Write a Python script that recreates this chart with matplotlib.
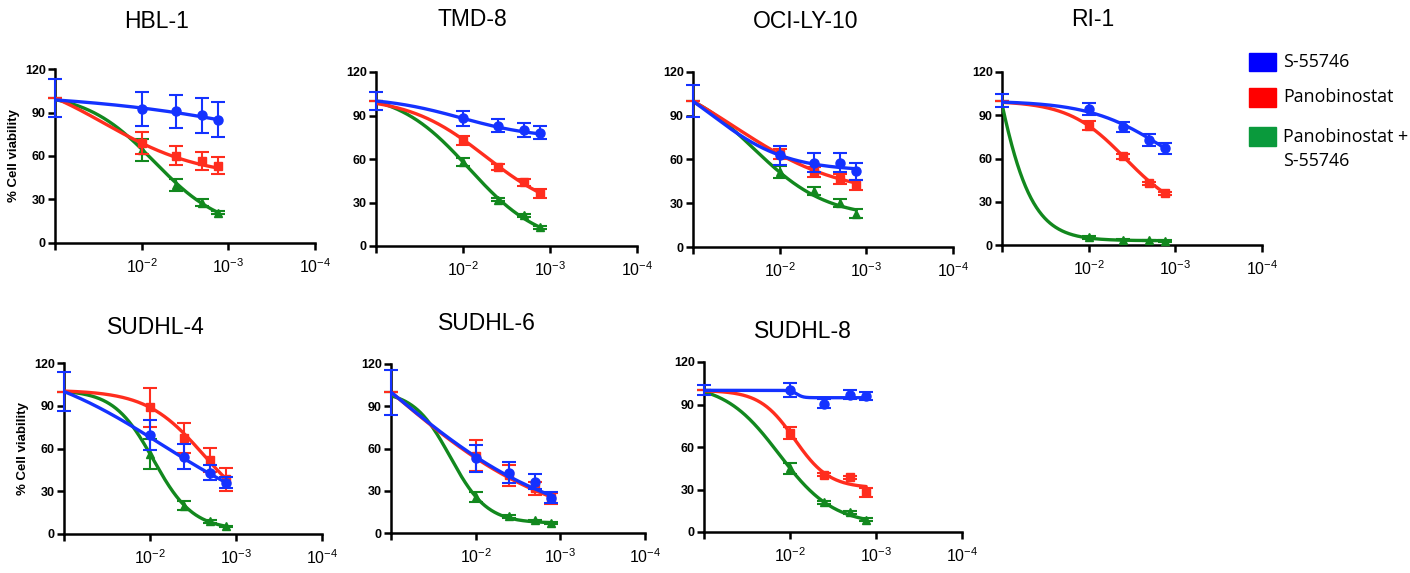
import matplotlib.pyplot as plt
import matplotlib.patches as mpatches
from matplotlib.ticker import NullLocator
import numpy as np

plt.rcParams['font.family'] = ['Liberation Sans', 'DejaVu Sans']
plt.rcParams['mathtext.default'] = 'regular'

# drug concentrations; the first one is the untreated control, shown at the origin
conc = [1e-1, 1e-2, 4e-3, 2e-3, 1.3e-3]

series_names = ['S-55746', 'Panobinostat', 'Panobinostat +\nS-55746']

# % viability, rows: S-55746, Panobinostat, Panobinostat + S-55746
hbl1_mean = [[100, 92.3, 90.7, 88.2, 85.0], [100, 68.8, 60.2, 56.3, 53.3], [100, 64.2, 40.0, 27.7, 20.8]]
hbl1_sem = [[13, 11.5, 11.6, 12, 12], [0, 7.5, 6.7, 6.3, 6], [0, 7.4, 4, 2.5, 1]]
tmd8_mean = [[100, 88, 83, 80, 78], [100, 72.8, 54.6, 43.8, 36.4], [100, 58, 31.9, 21.1, 12.9]]
tmd8_sem = [[6.2, 5, 4.5, 4.5, 4.5], [0, 3, 2, 2.5, 3], [0, 2.5, 1, 1, 1]]
ocily10_mean = [[100, 62.9, 57.8, 57.8, 51.9], [100, 63.5, 51.4, 46.4, 42.7], [100, 51.4, 38.4, 30.2, 22.9]]
ocily10_sem = [[11, 6.5, 6.5, 6.5, 6], [0, 3.5, 3.5, 3.5, 3.5], [0, 4, 3, 3, 3]]
ri1_mean = [[100, 94.5, 81.8, 73, 67], [100, 82.7, 61.4, 42.9, 35.9], [100, 5.3, 3.7, 3.2, 2.8]]
ri1_sem = [[4.4, 4, 3.5, 4, 4], [0, 3, 2, 1, 1], [0, 1, 0.5, 0.5, 0.5]]
sudhl4_mean = [[100, 69.5, 54.3, 43.1, 36.1], [100, 88.8, 67.6, 52, 38.5], [100, 56.2, 20, 8.9, 5.4]]
sudhl4_sem = [[13.6, 10.5, 8.7, 5.2, 4], [0, 13.7, 10.5, 8.7, 8], [0, 10.3, 3.5, 1, 0.5]]
sudhl6_mean = [[100, 53, 42.8, 36.4, 25.2], [100, 54.7, 41.1, 31.6, 24.5], [100, 25.7, 11.9, 9, 7.1]]
sudhl6_sem = [[16, 9.5, 7.6, 5.5, 4], [0, 11, 7.5, 4.5, 4], [0, 3.5, 1, 0.5, 0.5]]
sudhl8_mean = [[100, 100.5, 90.7, 97, 95.9], [100, 70, 40.3, 38.7, 28], [100, 45, 20.9, 14, 8.7]]
sudhl8_sem = [[3.5, 5, 3, 3, 3], [0, 4, 1, 1, 3], [0, 4, 1, 1, 1]]

# four-parameter fits: top, bottom, logIC50, hill slope
hbl1_fit = [[105, 0, -4.98, 0.3], [120, 45, -1.57, 0.77], [104, 8, -2.147, 1.094]]
tmd8_fit = [[103, 74, -1.97, 0.97], [103, 20, -2.265, 0.97], [107, 0, -2.069, 1.056]]
ocily10_fit = [[130, 52, -1.205, 0.99], [130, 35, -1.477, 0.703], [115, 20, -1.70, 1.03]]
ri1_fit = [[100, 35, -2.87, 1.0], [100, 20, -2.423, 1.32], [300, 3, -0.824, 1.875]]
sudhl4_fit = [[125, 0, -2.142, 0.527], [101, 10, -2.624, 1.299], [101, 3, -2.04, 1.882]]
sudhl6_fit = [[200, 0, -1.0, 0.43], [200, 0, -1.0, 0.44], [101, 7, -1.7, 2.0]]
sudhl8_fit = [[100, 94.8, -2.08, 12], [100, 31, -2.053, 2.15], [105, 5, -1.872, 1.37]]

panels = [
    ('HBL-1', hbl1_mean, hbl1_sem, hbl1_fit),
    ('TMD-8', tmd8_mean, tmd8_sem, tmd8_fit),
    ('OCI-LY-10', ocily10_mean, ocily10_sem, ocily10_fit),
    ('RI-1', ri1_mean, ri1_sem, ri1_fit),
    ('SUDHL-4', sudhl4_mean, sudhl4_sem, sudhl4_fit),
    ('SUDHL-6', sudhl6_mean, sudhl6_sem, sudhl6_fit),
    ('SUDHL-8', sudhl8_mean, sudhl8_sem, sudhl8_fit),
]

# axes boxes in pixels (left, right, top, bottom) and title centres
W, H = 1410, 573
boxes = [(55, 315, 69, 243), (376, 637, 72, 246), (693, 953, 72, 247), (1002, 1262, 72, 245),
         (64, 322, 363, 534), (391, 645, 364, 533), (704, 962, 362, 532)]
title_xy = [(157, 21), (472, 20), (806, 21), (1093, 20), (156, 328), (487, 324), (803, 332)]

colors = ['#1432ff', '#ff2d1e', '#12881e']
legend_colors = ['#0000ff', '#ff0000', '#0a9a3c']
markers = ['o', 's', '^']
msizes = [6.5, 6, 6]


def four_pl(c, top, bottom, logic50, hill):
    return bottom + (top - bottom) / (1 + 10 ** ((logic50 - np.log10(c)) * hill))


fig = plt.figure(figsize=(W / 100, H / 100), dpi=100)
xfit = np.logspace(np.log10(conc[0]), np.log10(conc[-1]), 300)

for i, (name, mean, sem, fit) in enumerate(panels):
    l, r, t, b = boxes[i]
    ax = fig.add_axes([l / W, 1 - b / H, (r - l) / W, (b - t) / H])
    # combination first so the single agents sit on top
    for k in [2, 1, 0]:
        z = 3 + (2 - k) * 2
        ax.plot(xfit, four_pl(xfit, *fit[k]), color=colors[k], lw=2.4, zorder=z, solid_capstyle='round')
        eb = ax.errorbar(conc, mean[k], yerr=sem[k], fmt='none', ecolor=colors[k],
                         elinewidth=1.5, capsize=5, capthick=1.5, zorder=z + 1)
        for art in list(eb.lines[1]) + list(eb.lines[2]):
            art.set_clip_on(False)
        ax.plot(conc[1:], mean[k][1:], ls='none', marker=markers[k], ms=msizes[k],
                color=colors[k], zorder=z + 1, clip_on=False)

    ax.set_xscale('log')
    ax.set_xlim(1e-1, 1e-4)
    ax.set_ylim(0, 120)
    ax.set_xticks([1e-1, 1e-2, 1e-3, 1e-4])
    ax.set_xticklabels(['', '10$^{-2}$', '10$^{-3}$', '10$^{-4}$'], fontsize=11.5)
    ax.xaxis.set_minor_locator(NullLocator())
    ax.set_yticks([0, 30, 60, 90, 120])
    ax.set_yticklabels(['0', '30', '60', '90', '120'], fontsize=9, fontweight='bold')
    for side in ['top', 'right']:
        ax.spines[side].set_visible(False)
    for side in ['left', 'bottom']:
        ax.spines[side].set_linewidth(1.8)
    ax.tick_params(axis='both', direction='out', length=5, width=1.8)
    ax.tick_params(axis='x', pad=5)
    ax.tick_params(axis='y', pad=1.5)
    ax.set_facecolor('none')
    if i in (0, 4):
        ax.set_ylabel('% Cell viability', fontsize=9.5, fontweight='bold', labelpad=4)
    tx, ty = title_xy[i]
    fig.text(tx / W, 1 - ty / H, name, fontsize=16.5, ha='center', va='center')

# legend boxes on the right
leg_rows = [(53, 71, 62), (88, 107, 97), (127, 146, 149)]
for k, (top, bot, ytxt) in enumerate(leg_rows):
    fig.patches.append(mpatches.Rectangle((1249 / W, 1 - bot / H), 27 / W, (bot - top) / H,
                                          transform=fig.transFigure, color=legend_colors[k]))
    fig.text(1283 / W, 1 - ytxt / H, series_names[k], fontsize=12.8, family=['Open Sans', 'DejaVu Sans'],
             ha='left', va='center', linespacing=1.5)

fig.savefig('out.png', dpi=100)
